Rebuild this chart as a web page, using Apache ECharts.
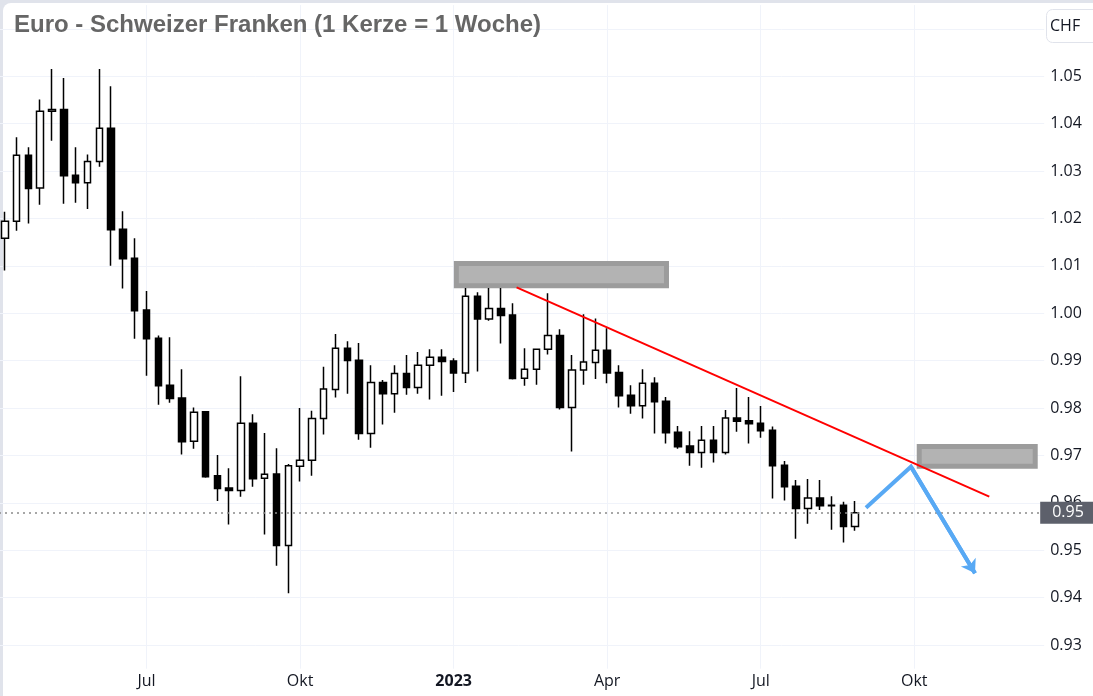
<!DOCTYPE html>
<html>
<head>
<meta charset="utf-8">
<script src="https://cdn.jsdelivr.net/npm/echarts@6/dist/echarts.min.js"></script>
<style>
html, body { margin: 0; padding: 0; background: #e0e3eb; width: 1093px; height: 696px; overflow: hidden; position: relative; }
#panel { position: absolute; left: 3px; top: 3px; width: 1090px; height: 693px; background: #ffffff; border-top-left-radius: 8px; }
#chart { position: absolute; left: -7px; top: 0; width: 1100px; height: 696px; }
</style>
</head>
<body>
<div id="panel"></div>
<div id="chart"></div>
<script>
// ---- data ----
const titleText = 'Euro - Schweizer Franken (1 Kerze = 1 Woche)';
const currencyText = 'CHF';
const priceLabelText = '0.95';

const weeks = [
  '2022-04-04','2022-04-11','2022-04-18','2022-04-25','2022-05-02','2022-05-09','2022-05-16','2022-05-23','2022-05-30',
  '2022-06-06','2022-06-13','2022-06-20','2022-06-27','2022-07-04','2022-07-11','2022-07-18','2022-07-25',
  '2022-08-01','2022-08-08','2022-08-15','2022-08-22','2022-08-29','2022-09-05','2022-09-12','2022-09-19','2022-09-26',
  '2022-10-03','2022-10-10','2022-10-17','2022-10-24','2022-10-31','2022-11-07','2022-11-14','2022-11-21','2022-11-28',
  '2022-12-05','2022-12-12','2022-12-19','2022-12-26',
  '2023-01-02','2023-01-09','2023-01-16','2023-01-23','2023-01-30','2023-02-06','2023-02-13','2023-02-20','2023-02-27',
  '2023-03-06','2023-03-13','2023-03-20','2023-03-27','2023-04-03','2023-04-10','2023-04-17','2023-04-24',
  '2023-05-01','2023-05-08','2023-05-15','2023-05-22','2023-05-29','2023-06-05','2023-06-12','2023-06-19','2023-06-26',
  '2023-07-03','2023-07-10','2023-07-17','2023-07-24','2023-07-31','2023-08-07','2023-08-14','2023-08-21','2023-08-28',
  '2023-09-04','2023-09-11','2023-09-18','2023-09-25','2023-10-02','2023-10-09','2023-10-16','2023-10-23','2023-10-30',
  '2023-11-06','2023-11-13','2023-11-20','2023-11-27','2023-12-04','2023-12-11','2023-12-18'
];
const firstCandleWeek = '2022-04-11';

const opens = [
  1.0158,1.0194,1.0333,1.0264,1.0426,1.0430,1.0291,1.0275,1.0320,1.0390,
  1.0177,1.0116,1.0007,0.9947,0.9848,0.9821,0.9730,0.9792,0.9657,0.9631,
  0.9626,0.9768,0.9652,0.9661,0.9510,0.9677,0.9690,0.9778,0.9839,0.9926,
  0.9901,0.9746,0.9854,0.9830,0.9873,0.9843,0.9890,0.9907,0.9899,0.9874,
  1.0036,0.9988,1.0010,0.9996,0.9863,0.9882,0.9924,0.9953,0.9801,0.9880,
  0.9896,0.9922,0.9875,0.9827,0.9805,0.9852,0.9814,0.9749,0.9720,0.9706,
  0.9732,0.9706,0.9779,0.9773,0.9768,0.9753,0.9679,0.9635,0.9588,0.9610,
  0.9595,0.9595,0.9550
];
const closes = [
  1.0194,1.0333,1.0263,1.0426,1.0430,1.0290,1.0275,1.0320,1.0390,1.0176,
  1.0115,1.0005,0.9946,0.9847,0.9820,0.9729,0.9791,0.9655,0.9630,0.9626,
  0.9768,0.9651,0.9660,0.9510,0.9678,0.9690,0.9778,0.9840,0.9926,0.9900,
  0.9746,0.9854,0.9830,0.9873,0.9843,0.9890,0.9907,0.9898,0.9874,1.0036,
  0.9988,1.0010,0.9995,0.9862,0.9882,0.9924,0.9953,0.9801,0.9880,0.9897,
  0.9922,0.9874,0.9826,0.9805,0.9852,0.9813,0.9748,0.9718,0.9706,0.9732,
  0.9706,0.9779,0.9772,0.9767,0.9752,0.9678,0.9634,0.9588,0.9610,0.9594,
  0.9594,0.9550,0.9579
];
const lows = [
  1.0090,1.0174,1.0189,1.0229,1.0364,1.0231,1.0233,1.0220,1.0309,1.0100,
  1.0052,0.9946,0.9868,0.9807,0.9811,0.9702,0.9714,0.9653,0.9604,0.9554,
  0.9613,0.9634,0.9533,0.9467,0.9409,0.9645,0.9657,0.9744,0.9822,0.9830,
  0.9733,0.9716,0.9765,0.9790,0.9828,0.9830,0.9818,0.9826,0.9834,0.9853,
  0.9877,0.9984,0.9936,0.9860,0.9847,0.9849,0.9913,0.9797,0.9708,0.9849,
  0.9861,0.9852,0.9801,0.9788,0.9778,0.9746,0.9725,0.9714,0.9678,0.9674,
  0.9685,0.9702,0.9750,0.9725,0.9737,0.9609,0.9605,0.9524,0.9556,0.9585,
  0.9543,0.9516,0.9541
];
const highs = [
  1.0214,1.0371,1.0350,1.0451,1.0515,1.0496,1.0350,1.0335,1.0515,1.0479,
  1.0215,1.0158,1.0047,0.9953,0.9949,0.9882,0.9801,0.9793,0.9701,0.9673,
  0.9867,0.9787,0.9747,0.9715,0.9682,0.9800,0.9794,0.9887,0.9956,0.9941,
  0.9937,0.9890,0.9859,0.9890,0.9912,0.9918,0.9924,0.9924,0.9905,1.0053,
  1.0044,1.0053,1.0053,1.0021,0.9926,0.9925,1.0042,0.9966,0.9912,0.9998,
  0.9989,0.9968,0.9890,0.9848,0.9882,0.9865,0.9823,0.9762,0.9751,0.9762,
  0.9762,0.9796,0.9842,0.9823,0.9804,0.9761,0.9688,0.9648,0.9650,0.9648,
  0.9614,0.9602,0.9604
];

// time-axis tick labels (shown at the first weekly candle of the month)
const tickLabels = {
  '2022-07-04': 'Jul', '2022-10-03': 'Okt', '2023-01-02': '2023',
  '2023-04-03': 'Apr', '2023-07-03': 'Jul', '2023-10-02': 'Okt'
};
const yearTicks = ['2023-01-02'];

// drawn annotations, in (week index, price) units
const zoneUpper = [[39.23, 1.0105], [57.02, 1.0058]];
const zoneLower = [[78.42, 0.9719], [88.24, 0.9677]];
const trendLine = [[44.33, 1.00546], [84.35, 0.96129]];
const forecastPath = [[73.91, 0.95897], [77.72, 0.96762], [83.14, 0.94513]];

// ---- build ----
const start = weeks.indexOf(firstCandleWeek);
const candleData = weeks.map((w, k) => {
  const j = k - start;
  return (j >= 0 && j < opens.length) ? [opens[j], closes[j], lows[j], highs[j]] : '-';
});
const lastClose = closes[closes.length - 1];

const AX_FONT = 'Open Sans';
const isTick = (idx, val) => Object.prototype.hasOwnProperty.call(tickLabels, val);

const chart = echarts.init(document.getElementById('chart'), null, { renderer: 'canvas' });
chart.setOption({
  animation: false,
  backgroundColor: 'transparent',
  title: [
    { text: titleText, left: 16, top: 8,
      textStyle: { fontFamily: 'Liberation Sans', fontSize: 24, fontWeight: 'bold', color: '#666666' } },
    { text: currencyText, left: 1053, top: 9, padding: [9, 24, 9, 4],
      borderColor: '#e0e3eb', borderWidth: 1, borderRadius: 6, backgroundColor: '#ffffff',
      textStyle: { fontFamily: AX_FONT, fontSize: 16, fontWeight: 'normal', color: '#131722' } }
  ],
  grid: { left: 0, right: 48.8, top: 5.1, bottom: 27.3, containLabel: false },
  xAxis: [
    { type: 'category', data: weeks, boundaryGap: false,
      axisLine: { show: false }, axisTick: { show: false },
      axisLabel: {
        interval: isTick, margin: 5, fontFamily: AX_FONT, fontSize: 16, color: '#131722',
        formatter: v => yearTicks.includes(v) ? '{b|' + tickLabels[v] + '}' : (tickLabels[v] || ''),
        rich: { b: { fontFamily: AX_FONT, fontSize: 16, fontWeight: 'bold', color: '#131722' } }
      },
      splitLine: { show: true, interval: isTick, lineStyle: { color: '#f0f3fa', width: 1 } }
    },
    { type: 'value', min: 0, max: weeks.length - 1, show: false }
  ],
  yAxis: {
    type: 'value', position: 'right', min: 0.925, max: 1.065, interval: 0.005,
    axisLine: { show: false }, axisTick: { show: false },
    axisLabel: {
      margin: 6, fontFamily: AX_FONT, fontSize: 16, color: '#131722',
      formatter: v => {
        const k = Math.round(v * 1000);
        if (k % 10 !== 0 || k === 1060) return '';
        return (k / 1000).toFixed(2);
      }
    },
    splitLine: { show: true, lineStyle: { color: ['rgba(0,0,0,0)', '#f0f3fa'], width: 1 } }
  },
  series: [
    {
      type: 'candlestick', data: candleData, barWidth: 7, z: 2,
      itemStyle: { color: '#ffffff', color0: '#000000', borderColor: '#000000', borderColor0: '#000000', borderWidth: 1.5 },
      emphasis: { disabled: true },
      markLine: {
        silent: true, symbol: ['none', 'none'], animation: false, precision: 4,
        data: [{ yAxis: lastClose }],
        lineStyle: { color: '#8a8a8a', type: [2, 4], width: 1.5 },
        label: { show: true, position: 'end', distance: -4, formatter: priceLabelText,
          backgroundColor: '#5d606b', color: '#ffffff', fontFamily: AX_FONT, fontSize: 16,
          padding: [3, 16, 3, 12] },
        emphasis: { disabled: true }
      }
    },
    {
      type: 'line', xAxisIndex: 1, data: [], z: 3, silent: true,
      markArea: {
        silent: true,
        itemStyle: { color: '#b3b3b3', borderColor: '#9c9c9c', borderWidth: 5, opacity: 1 },
        data: [
          [{ coord: zoneUpper[0] }, { coord: zoneUpper[1] }],
          [{ coord: zoneLower[0] }, { coord: zoneLower[1] }]
        ]
      }
    },
    {
      type: 'line', xAxisIndex: 1, data: trendLine, z: 4, silent: true,
      symbol: 'none', lineStyle: { color: '#ff0000', width: 2 }
    },
    {
      type: 'line', xAxisIndex: 1, data: forecastPath, z: 5, silent: true,
      symbol: 'none', lineStyle: { color: '#58a9f4', width: 4, join: 'miter' },
      markLine: {
        silent: true, symbol: ['none', 'arrow'], symbolSize: 13, animation: false, precision: 4,
        label: { show: false },
        lineStyle: { color: '#58a9f4', width: 4, type: 'solid' },
        data: [[{ coord: forecastPath[1] }, { coord: forecastPath[2] }]]
      }
    }
  ]
});
</script>
</body>
</html>
